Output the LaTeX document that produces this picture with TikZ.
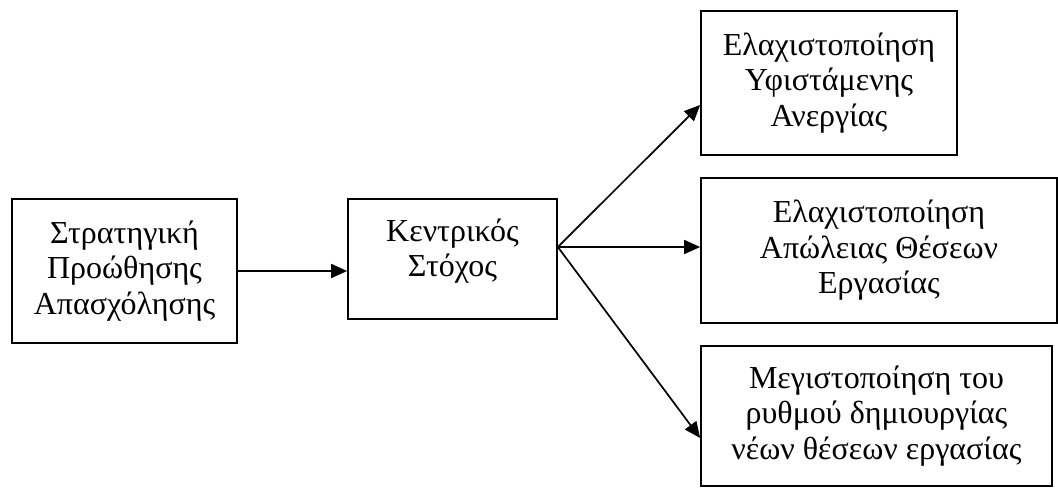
\documentclass[tikz,border=0pt]{standalone}
\usepackage{fontspec}
\setmainfont{Liberation Serif}
\usetikzlibrary{arrows.meta}
\begin{document}
\begin{tikzpicture}[x=1pt,y=-1pt,
  box/.style={draw, line width=1.7pt, rectangle, inner sep=0pt, align=center,
    font=\fontsize{32}{35.5}\selectfont},
  txt/.style={inner sep=0pt, align=center, font=\fontsize{32}{35.5}\selectfont},
  arr/.style={line width=1.7pt, -{Triangle[length=16pt,width=14pt]}}]
\useasboundingbox (0,0) rectangle (1058,488);
\node[box, minimum width=225pt, minimum height=144pt] (b1) at (124.5,271) {Στρατηγική\\Προώθησης\\Απασχόλησης};
\node[box, minimum width=209pt, minimum height=120pt] (b2) at (452.5,259) {};
\node[txt] (t2) at ([yshift=8pt]b2.center) {Κεντρικός\\Στόχος};
\node[box, minimum width=256pt, minimum height=144pt] (b3) at (829,83) {Ελαχιστοποίηση\\Υφιστάμενης\\Ανεργίας};
\node[box, minimum width=356pt, minimum height=145pt] (b4) at (879,250.5) {Ελαχιστοποίηση\\Απώλειας Θέσεων\\Εργασίας};
\node[box, minimum width=351pt, minimum height=140pt] (b5) at (876.5,416) {Μεγιστοποίηση του\\ρυθμού δημιουργίας\\νέων θέσεων εργασίας};
\coordinate (fan) at ([yshift=12pt]b2.east);
\draw[arr] (b1.east) -- (b1.east -| b2.west);
\draw[arr] (fan) -- ([yshift=-22pt]b3.west);
\draw[arr] (fan) -- (fan -| b4.west);
\draw[arr] (fan) -- ([yshift=-22pt]b5.west);
\end{tikzpicture}
\end{document}
